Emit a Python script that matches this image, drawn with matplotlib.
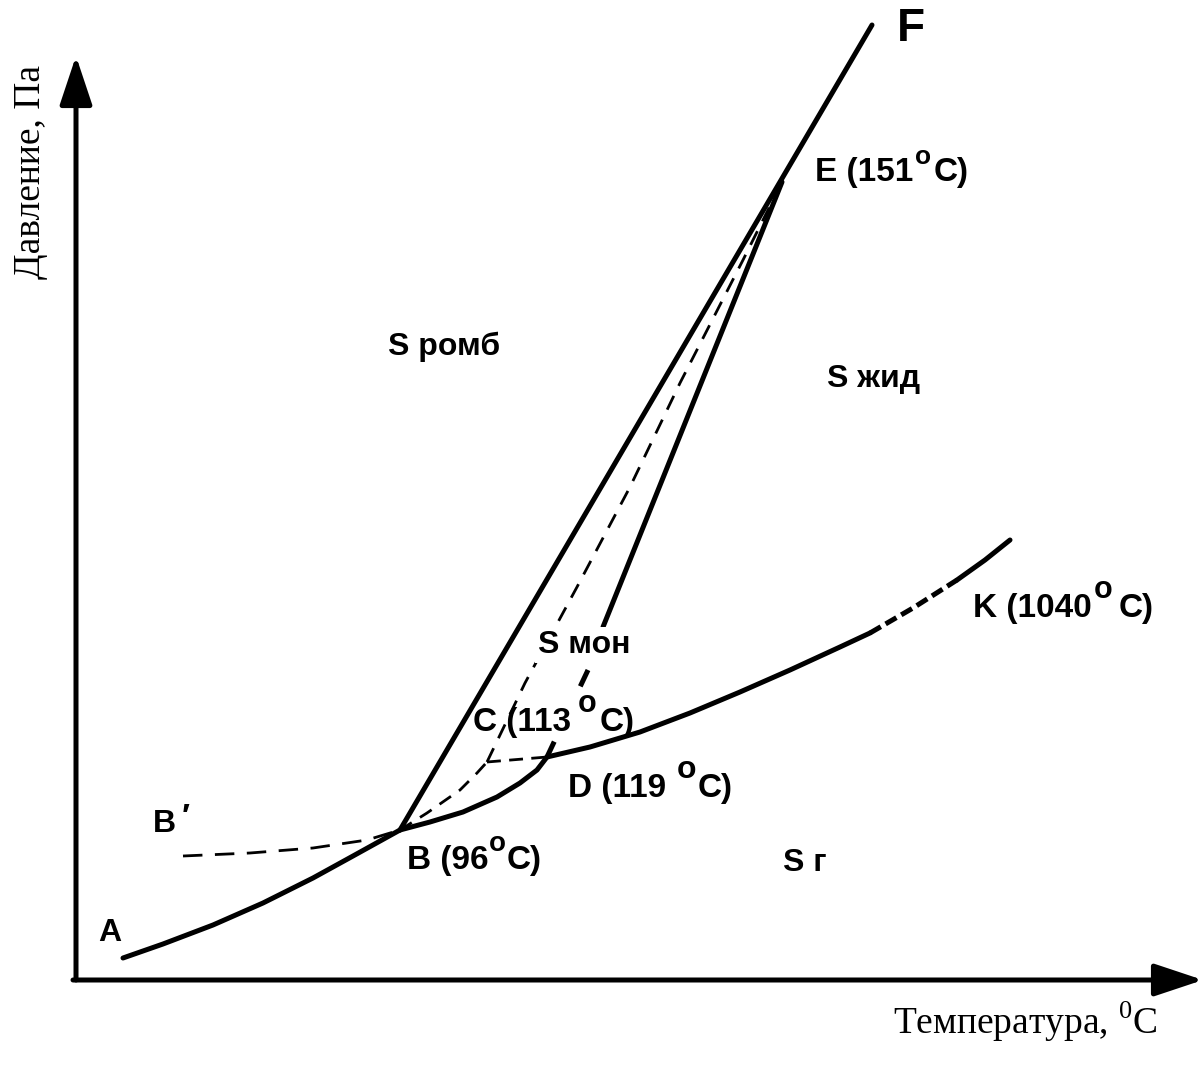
import matplotlib
matplotlib.use("Agg")
import matplotlib.pyplot as plt

plt.rcParams['lines.scale_dashes'] = False
plt.rcParams['mathtext.fontset'] = 'custom'
plt.rcParams['mathtext.rm'] = 'Liberation Serif'

SANS = 'Liberation Sans'
SERIF = 'Liberation Serif'

# ---- curve data (schematic units: T to the right, P upward) ----
ab_T = [50, 90, 140, 190, 240, 280, 327]
ab_P = [22, 36, 55, 77, 102, 124, 150]

bprime_T = [110, 177, 240, 294, 327]
bprime_P = [124, 127, 132, 140, 150]

bd_T = [327, 357, 390, 424, 447, 464, 474]
bd_P = [150, 158, 168, 183, 197, 210, 223]

dk_T = [474, 517, 567, 617, 667, 717, 767, 797]
dk_P = [223, 233, 248, 267, 288, 310, 333, 347]

kdash_T = [797, 840, 884]
kdash_P = [347, 372, 400]

kend_T = [884, 912, 937]
kend_P = [400, 420, 440]

bf_T = [327, 799]
bf_P = [150, 955]

ed_T = [709, 530]
ed_P = [798, 353]

eddash_T = [515, 474]
eddash_P = [310, 223]

ce_T = [414, 452, 504, 557, 607, 670, 709]
ce_P = [218, 297, 393, 493, 597, 720, 798]

bc_T = [327, 354, 387, 404, 414]
bc_P = [150, 167, 190, 207, 218]

cd_T = [414, 474]
cd_P = [218, 223]

# plain labels: (text, T, P, fontsize)
plain_labels = [
    ("S ромб", 315, 633, 23),
    ("S жид", 754, 601, 23),
    ("S г", 710, 117, 23),
    ("A", 25, 47, 23),
    ("B", 80, 156, 23),
    ("′", 109, 162, 24),
]
# point labels with degree sign:
# (before, after, T, P, gap before o [pt], gap after o [pt], size of o [pt])
degree_labels = [
    ("E (151", "C)", 742, 808, 1.5, 1.5, 19),
    ("C (113", "C)", 400, 257, 5.0, 2.0, 22),
    ("D (119", "C)", 495, 191, 8.0, 0.5, 23),
    ("B (96", "C)", 334, 120, 0.5, 0.5, 20),
    ("K (1040", "C)", 900, 371, 1.5, 4.0, 22),
]
monocl_label = ("S мон", 465, 335)
top_label = ("F", 838, 951)

x_label = r"Температура, $^{\mathrm{0}}$C"
y_label = "Давление, Па"

fig = plt.figure(figsize=(12.04, 10.66), dpi=100)
ax = fig.add_axes([0, 0, 1, 1])
ax.set_xlim(-73, 1131)
ax.set_ylim(-86, 980)
ax.axis('off')

k = 'black'
thick = 3.6
thin = 2.0

# axes arrows
arrow_props = dict(arrowstyle='-|>,head_length=1.5,head_width=0.5', lw=thick,
                   color=k, mutation_scale=20, shrinkA=0, shrinkB=0)
ax.annotate('', xy=(3, 924), xytext=(3, 0), arrowprops=arrow_props)
ax.annotate('', xy=(1130, 0), xytext=(0, 0), arrowprops=arrow_props)

# solid curves
for T, P in [(ab_T, ab_P), (bd_T, bd_P), (dk_T, dk_P), (kend_T, kend_P),
             (bf_T, bf_P), (ed_T, ed_P)]:
    ax.plot(T, P, color=k, lw=thick, solid_capstyle='round',
            solid_joinstyle='round', zorder=2)

# thick dashed
ax.plot(kdash_T, kdash_P, color=k, lw=thick, dashes=(9, 4), zorder=2)
ax.plot(eddash_T, eddash_P, color=k, lw=thick, dashes=(13, 44), zorder=2)

# thin dashed
ax.plot(bprime_T, bprime_P, color=k, lw=thin, dashes=(14, 9), zorder=1)
ax.plot(ce_T, ce_P, color=k, lw=thin, dashes=(11, 8), zorder=1)
ax.plot(bc_T, bc_P, color=k, lw=thin, dashes=(10, 7), zorder=1)
ax.plot(cd_T, cd_P, color=k, lw=thin, dashes=(10, 6), zorder=1)

for txt, T, P, fs in plain_labels:
    ax.text(T, P, txt, fontsize=fs, fontweight='bold', family=SANS,
            ha='left', va='center', zorder=3)

ax.text(monocl_label[1], monocl_label[2], monocl_label[0], fontsize=23,
        fontweight='bold', family=SANS, ha='left', va='center', zorder=3,
        bbox=dict(facecolor='white', edgecolor='none', pad=2))

ax.text(top_label[1], top_label[2], top_label[0], fontsize=33,
        fontweight='bold', family=SANS, ha='center', va='center', zorder=3)

for pre, post, T, P, g1, g2, ofs in degree_labels:
    t1 = ax.text(T, P, pre, fontsize=24, fontweight='bold', family=SANS,
                 ha='left', va='center', zorder=3)
    raise_pt = 13.2 + 0.21 * (ofs - 19)
    o = ax.annotate('o', xy=(1, 0), xycoords=t1, xytext=(g1, raise_pt),
                    textcoords='offset points', fontsize=ofs, fontweight='bold',
                    family=SANS, ha='left', va='bottom', zorder=3)
    ax.annotate(post, xy=(1, 0), xycoords=(o, t1), xytext=(g2, 0),
                textcoords='offset points', fontsize=24, fontweight='bold',
                family=SANS, ha='left', va='bottom', zorder=3)

ax.text(952, -42, x_label, fontsize=27, family=SERIF, ha='center', va='center')
ax.text(-42, 808, y_label, fontsize=27, family=SERIF, ha='center', va='center',
        rotation=90)

fig.savefig("out.png", dpi=100, facecolor='white')
